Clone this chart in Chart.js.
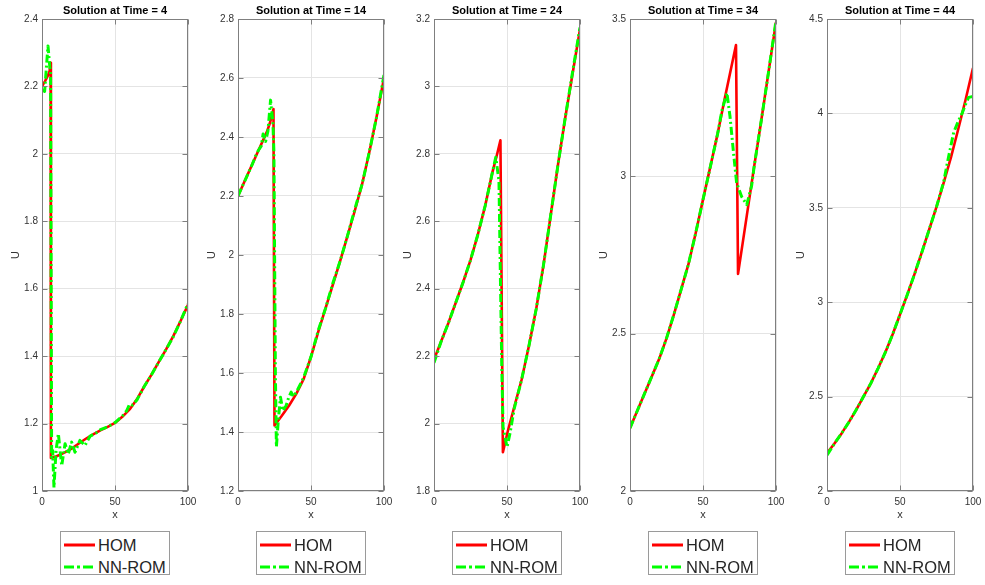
<!DOCTYPE html>
<html><head><meta charset="utf-8">
<script src="https://cdn.jsdelivr.net/npm/chart.js@4/dist/chart.umd.min.js"></script>
<style>
html,body{margin:0;padding:0;background:#fff}
body{width:985px;height:585px;overflow:hidden;position:relative;font-family:"Liberation Sans",Arial,sans-serif}
canvas.cv{position:absolute;top:0}
.lg{position:absolute;top:531px;width:110px;height:44px;box-sizing:border-box;border:1px solid #9a9a9a;background:#fff}
.row{position:absolute;left:3px;height:22px;display:flex;align-items:center;font-size:16.5px;color:#262626;white-space:nowrap}
.row svg{margin-right:3px}
</style></head><body>
<script>
// ---- data ----
const titles = ['Solution at Time = 4','Solution at Time = 14','Solution at Time = 24','Solution at Time = 34','Solution at Time = 44'];
const seriesNames = ['HOM','NN-ROM'];
const xTicks = [0, 50, 100];

const t4_yticks = [1, 1.2, 1.4, 1.6, 1.8, 2, 2.2, 2.4];
const t14_yticks = [1.2, 1.4, 1.6, 1.8, 2, 2.2, 2.4, 2.6, 2.8];
const t24_yticks = [1.8, 2, 2.2, 2.4, 2.6, 2.8, 3, 3.2];
const t34_yticks = [2, 2.5, 3, 3.5];
const t44_yticks = [2, 2.5, 3, 3.5, 4, 4.5];

const t4_hom_x = [0, 2, 4, 5.2, 5.9, 6.1, 10, 15, 20, 25, 30, 35, 40, 45, 50, 55, 60, 65, 70, 75, 80, 85, 90, 95, 100];
const t4_hom_u = [2.20, 2.215, 2.232, 2.245, 2.27, 1.098, 1.103, 1.113, 1.125, 1.14, 1.155, 1.168, 1.18, 1.19, 1.202, 1.22, 1.242, 1.272, 1.31, 1.345, 1.383, 1.42, 1.46, 1.505, 1.552];
const t4_nn_x = [0, 1.8, 4.1, 5.3, 5.9, 6.6, 7.3, 8.2, 9.6, 11.2, 13.5, 15.8, 18, 20.3, 22.6, 26, 29.4, 33, 37, 40, 45, 50, 55, 58, 60, 62, 65, 70, 75, 80, 85, 90, 95, 100];
const t4_nn_u = [2.19, 2.185, 2.32, 2.26, 2.24, 1.10, 1.12, 1.01, 1.12, 1.17, 1.075, 1.14, 1.11, 1.145, 1.115, 1.15, 1.135, 1.163, 1.172, 1.182, 1.19, 1.203, 1.222, 1.238, 1.258, 1.255, 1.27, 1.31, 1.345, 1.383, 1.42, 1.458, 1.505, 1.556];

const t14_hom_x = [0, 5, 10, 15, 20, 22, 24.3, 25, 30, 35, 40, 45, 50, 55, 60, 65, 70, 75, 80, 85, 90, 95, 100];
const t14_hom_u = [2.2, 2.255, 2.31, 2.365, 2.42, 2.45, 2.495, 1.422, 1.455, 1.49, 1.53, 1.58, 1.655, 1.74, 1.82, 1.90, 1.98, 2.065, 2.15, 2.24, 2.35, 2.47, 2.6];
const t14_nn_x = [0, 5, 10, 12, 14, 16, 17.2, 18.9, 20.5, 22.3, 23.9, 24.6, 25.6, 26.3, 27.6, 29.1, 30.7, 33, 34.6, 36.4, 38, 40, 45, 50, 55, 60, 65, 70, 75, 80, 85, 90, 95, 100];
const t14_nn_u = [2.2, 2.255, 2.31, 2.335, 2.355, 2.37, 2.41, 2.385, 2.42, 2.525, 2.45, 2.35, 1.6, 1.35, 1.44, 1.518, 1.472, 1.49, 1.515, 1.535, 1.52, 1.535, 1.585, 1.655, 1.745, 1.82, 1.905, 1.98, 2.065, 2.155, 2.24, 2.35, 2.47, 2.61];

const t24_hom_x = [0, 5, 10, 15, 20, 25, 30, 35, 40, 43, 45.5, 47.2, 50.7, 55, 60, 65, 70, 75, 80, 85, 90, 95, 100];
const t24_hom_u = [2.19, 2.245, 2.30, 2.36, 2.42, 2.485, 2.56, 2.645, 2.745, 2.795, 2.84, 1.915, 1.98, 2.05, 2.13, 2.23, 2.34, 2.47, 2.62, 2.77, 2.91, 3.04, 3.17];
const t24_nn_x = [0, 5, 10, 15, 20, 25, 30, 35, 40, 42.3, 44.5, 45.6, 46.5, 47.3, 50, 52, 55, 60, 65, 70, 75, 80, 85, 90, 95, 100];
const t24_nn_u = [2.18, 2.245, 2.30, 2.36, 2.42, 2.485, 2.56, 2.645, 2.745, 2.79, 2.72, 2.40, 2.15, 1.99, 1.93, 1.97, 2.045, 2.13, 2.23, 2.34, 2.47, 2.62, 2.77, 2.91, 3.045, 3.175];

const t34_hom_x = [0, 5, 10, 15, 20, 25, 30, 35, 40, 45, 50, 55, 60, 65, 70, 72.6, 74, 80, 85, 90, 95, 100];
const t34_hom_u = [2.2, 2.255, 2.31, 2.365, 2.42, 2.485, 2.56, 2.64, 2.72, 2.82, 2.926, 3.03, 3.135, 3.25, 3.36, 3.417, 2.69, 2.875, 3.03, 3.18, 3.335, 3.49];
const t34_nn_x = [0, 5, 10, 15, 20, 25, 30, 35, 40, 45, 50, 55, 60, 63, 66.4, 68.5, 70.8, 73, 76.5, 80, 83.3, 85, 90, 95, 100];
const t34_nn_u = [2.2, 2.255, 2.31, 2.365, 2.42, 2.485, 2.56, 2.64, 2.72, 2.82, 2.926, 3.03, 3.135, 3.21, 3.265, 3.19, 3.08, 2.98, 2.935, 2.91, 2.97, 3.03, 3.18, 3.335, 3.495];

const t44_hom_x = [0, 5, 10, 15, 20, 25, 30, 35, 40, 45, 50, 55, 60, 65, 70, 75, 80, 85, 90, 95, 100];
const t44_hom_u = [2.2, 2.25, 2.305, 2.365, 2.43, 2.5, 2.57, 2.65, 2.735, 2.83, 2.935, 3.04, 3.15, 3.265, 3.385, 3.505, 3.635, 3.77, 3.92, 4.075, 4.24];
const t44_nn_x = [0, 5, 10, 15, 20, 25, 30, 35, 40, 45, 50, 55, 60, 65, 70, 75, 80, 83, 86.8, 90, 92.5, 95, 97, 100];
const t44_nn_u = [2.19, 2.25, 2.305, 2.365, 2.43, 2.5, 2.57, 2.65, 2.735, 2.83, 2.935, 3.04, 3.15, 3.265, 3.385, 3.505, 3.64, 3.76, 3.90, 3.96, 4.0, 4.05, 4.085, 4.09];

// ---- assembly ----
const panels = [
  {hx:t4_hom_x, hu:t4_hom_u, nx:t4_nn_x, nu:t4_nn_u, yt:t4_yticks},
  {hx:t14_hom_x, hu:t14_hom_u, nx:t14_nn_x, nu:t14_nn_u, yt:t14_yticks},
  {hx:t24_hom_x, hu:t24_hom_u, nx:t24_nn_x, nu:t24_nn_u, yt:t24_yticks},
  {hx:t34_hom_x, hu:t34_hom_u, nx:t34_nn_x, nu:t34_nn_u, yt:t34_yticks},
  {hx:t44_hom_x, hu:t44_hom_u, nx:t44_nn_x, nu:t44_nn_u, yt:t44_yticks}
];
const plotLefts = [42, 238, 434, 630, 827];
const AXW = 42, PLOTW = 146, CH = 525;
const FONT = '"Liberation Sans", Arial, sans-serif';
const RED = '#ff0000', GREEN = '#00ff00';
const AXC = '#7f7f7f', GRIDC = '#e4e4e4', TXT = '#333333';

const pts = (xs, us) => xs.map((x, i) => ({x: x, y: us[i]}));

const boxPlugin = {
  id: 'mbox',
  afterDraw(chart) {
    const {ctx, chartArea: a, scales: {x, y}} = chart;
    ctx.save();
    ctx.strokeStyle = AXC; ctx.lineWidth = 1;
    const L = Math.round(a.left) + 0.5, R = Math.round(a.right) - 0.5;
    const T = Math.round(a.top) + 0.5, B = Math.round(a.bottom) - 0.5;
    ctx.strokeRect(L, T, R - L, B - T);
    ctx.beginPath();
    x.ticks.forEach(t => {
      const p = Math.round(x.getPixelForValue(t.value)) + 0.5;
      ctx.moveTo(p, B); ctx.lineTo(p, B - 5);
      ctx.moveTo(p, T); ctx.lineTo(p, T + 5);
    });
    y.ticks.forEach(t => {
      const p = Math.round(y.getPixelForValue(t.value)) + 0.5;
      ctx.moveTo(L, p); ctx.lineTo(L + 5, p);
      ctx.moveTo(R, p); ctx.lineTo(R - 5, p);
    });
    ctx.stroke();
    ctx.restore();
  }
};

panels.forEach((p, i) => {
  const cv = document.createElement('canvas');
  cv.className = 'cv';
  cv.width = AXW + PLOTW + AXW; cv.height = CH;
  cv.style.left = (plotLefts[i] - AXW) + 'px';
  cv.style.width = cv.width + 'px'; cv.style.height = CH + 'px';
  document.body.appendChild(cv);

  new Chart(cv.getContext('2d'), {
    type: 'line',
    data: {datasets: [
      {label: seriesNames[0], data: pts(p.hx, p.hu), borderColor: RED, backgroundColor: RED,
       borderWidth: 2.6, borderJoinStyle: 'round', pointRadius: 0, tension: 0, order: 1, fill: false},
      {label: seriesNames[1], data: pts(p.nx, p.nu), borderColor: GREEN, backgroundColor: GREEN,
       borderWidth: 3, borderJoinStyle: 'round', borderDash: [8, 3, 2, 3], pointRadius: 0, tension: 0, order: 0, fill: false}
    ]},
    options: {
      responsive: false, animation: false, devicePixelRatio: 1,
      layout: {padding: 0},
      plugins: {
        legend: {display: false}, tooltip: {enabled: false},
        title: {display: true, text: titles[i], color: '#000', align: 'center',
                font: {family: FONT, size: 11, weight: 'bold', lineHeight: 1.2},
                padding: {top: 4.2, bottom: 1.6}}
      },
      scales: {
        x: {
          type: 'linear', min: 0, max: 100,
          afterBuildTicks: s => { s.ticks = xTicks.map(v => ({value: v})); },
          afterFit: s => { s.height = 34; },
          ticks: {color: TXT, font: {family: FONT, size: 10}, padding: 5, maxRotation: 0,
                  callback: v => String(v)},
          grid: {color: GRIDC, drawTicks: false, lineWidth: 1},
          border: {display: false},
          title: {display: true, text: 'x', color: TXT, font: {family: FONT, size: 11}, padding: {top: 0, bottom: 3}}
        },
        y: {
          type: 'linear', min: p.yt[0], max: p.yt[p.yt.length - 1],
          afterBuildTicks: s => { s.ticks = p.yt.map(v => ({value: v})); },
          afterFit: s => { s.width = AXW; },
          ticks: {color: TXT, font: {family: FONT, size: 10}, padding: 4,
                  callback: v => String(+v.toFixed(2))},
          grid: {color: GRIDC, drawTicks: false, lineWidth: 1},
          border: {display: false},
          title: {display: true, text: 'U', color: TXT, font: {family: FONT, size: 11}, padding: {top: 9, bottom: 0}}
        },
        yR: {
          type: 'linear', position: 'right', display: true,
          min: p.yt[0], max: p.yt[p.yt.length - 1],
          afterFit: s => { s.width = AXW; },
          ticks: {display: false},
          grid: {display: false, drawOnChartArea: false, drawTicks: false},
          border: {display: false}
        }
      }
    },
    plugins: [boxPlugin]
  });

  // legend box
  const lg = document.createElement('div');
  lg.className = 'lg';
  lg.style.left = (plotLefts[i] + PLOTW / 2 - 55) + 'px';
  const styles = [
    '<line x1="0" y1="3" x2="31" y2="3" stroke="' + RED + '" stroke-width="3"/>',
    '<line x1="0" y1="3" x2="31" y2="3" stroke="' + GREEN + '" stroke-width="3" stroke-dasharray="10 3 3 3"/>'
  ];
  seriesNames.forEach((nm, k) => {
    const r = document.createElement('div');
    r.className = 'row';
    r.style.top = (2 + k * 22) + 'px';
    r.innerHTML = '<svg width="31" height="6">' + styles[k] + '</svg><span>' + nm + '</span>';
    lg.appendChild(r);
  });
  document.body.appendChild(lg);
});
</script>
</body></html>
